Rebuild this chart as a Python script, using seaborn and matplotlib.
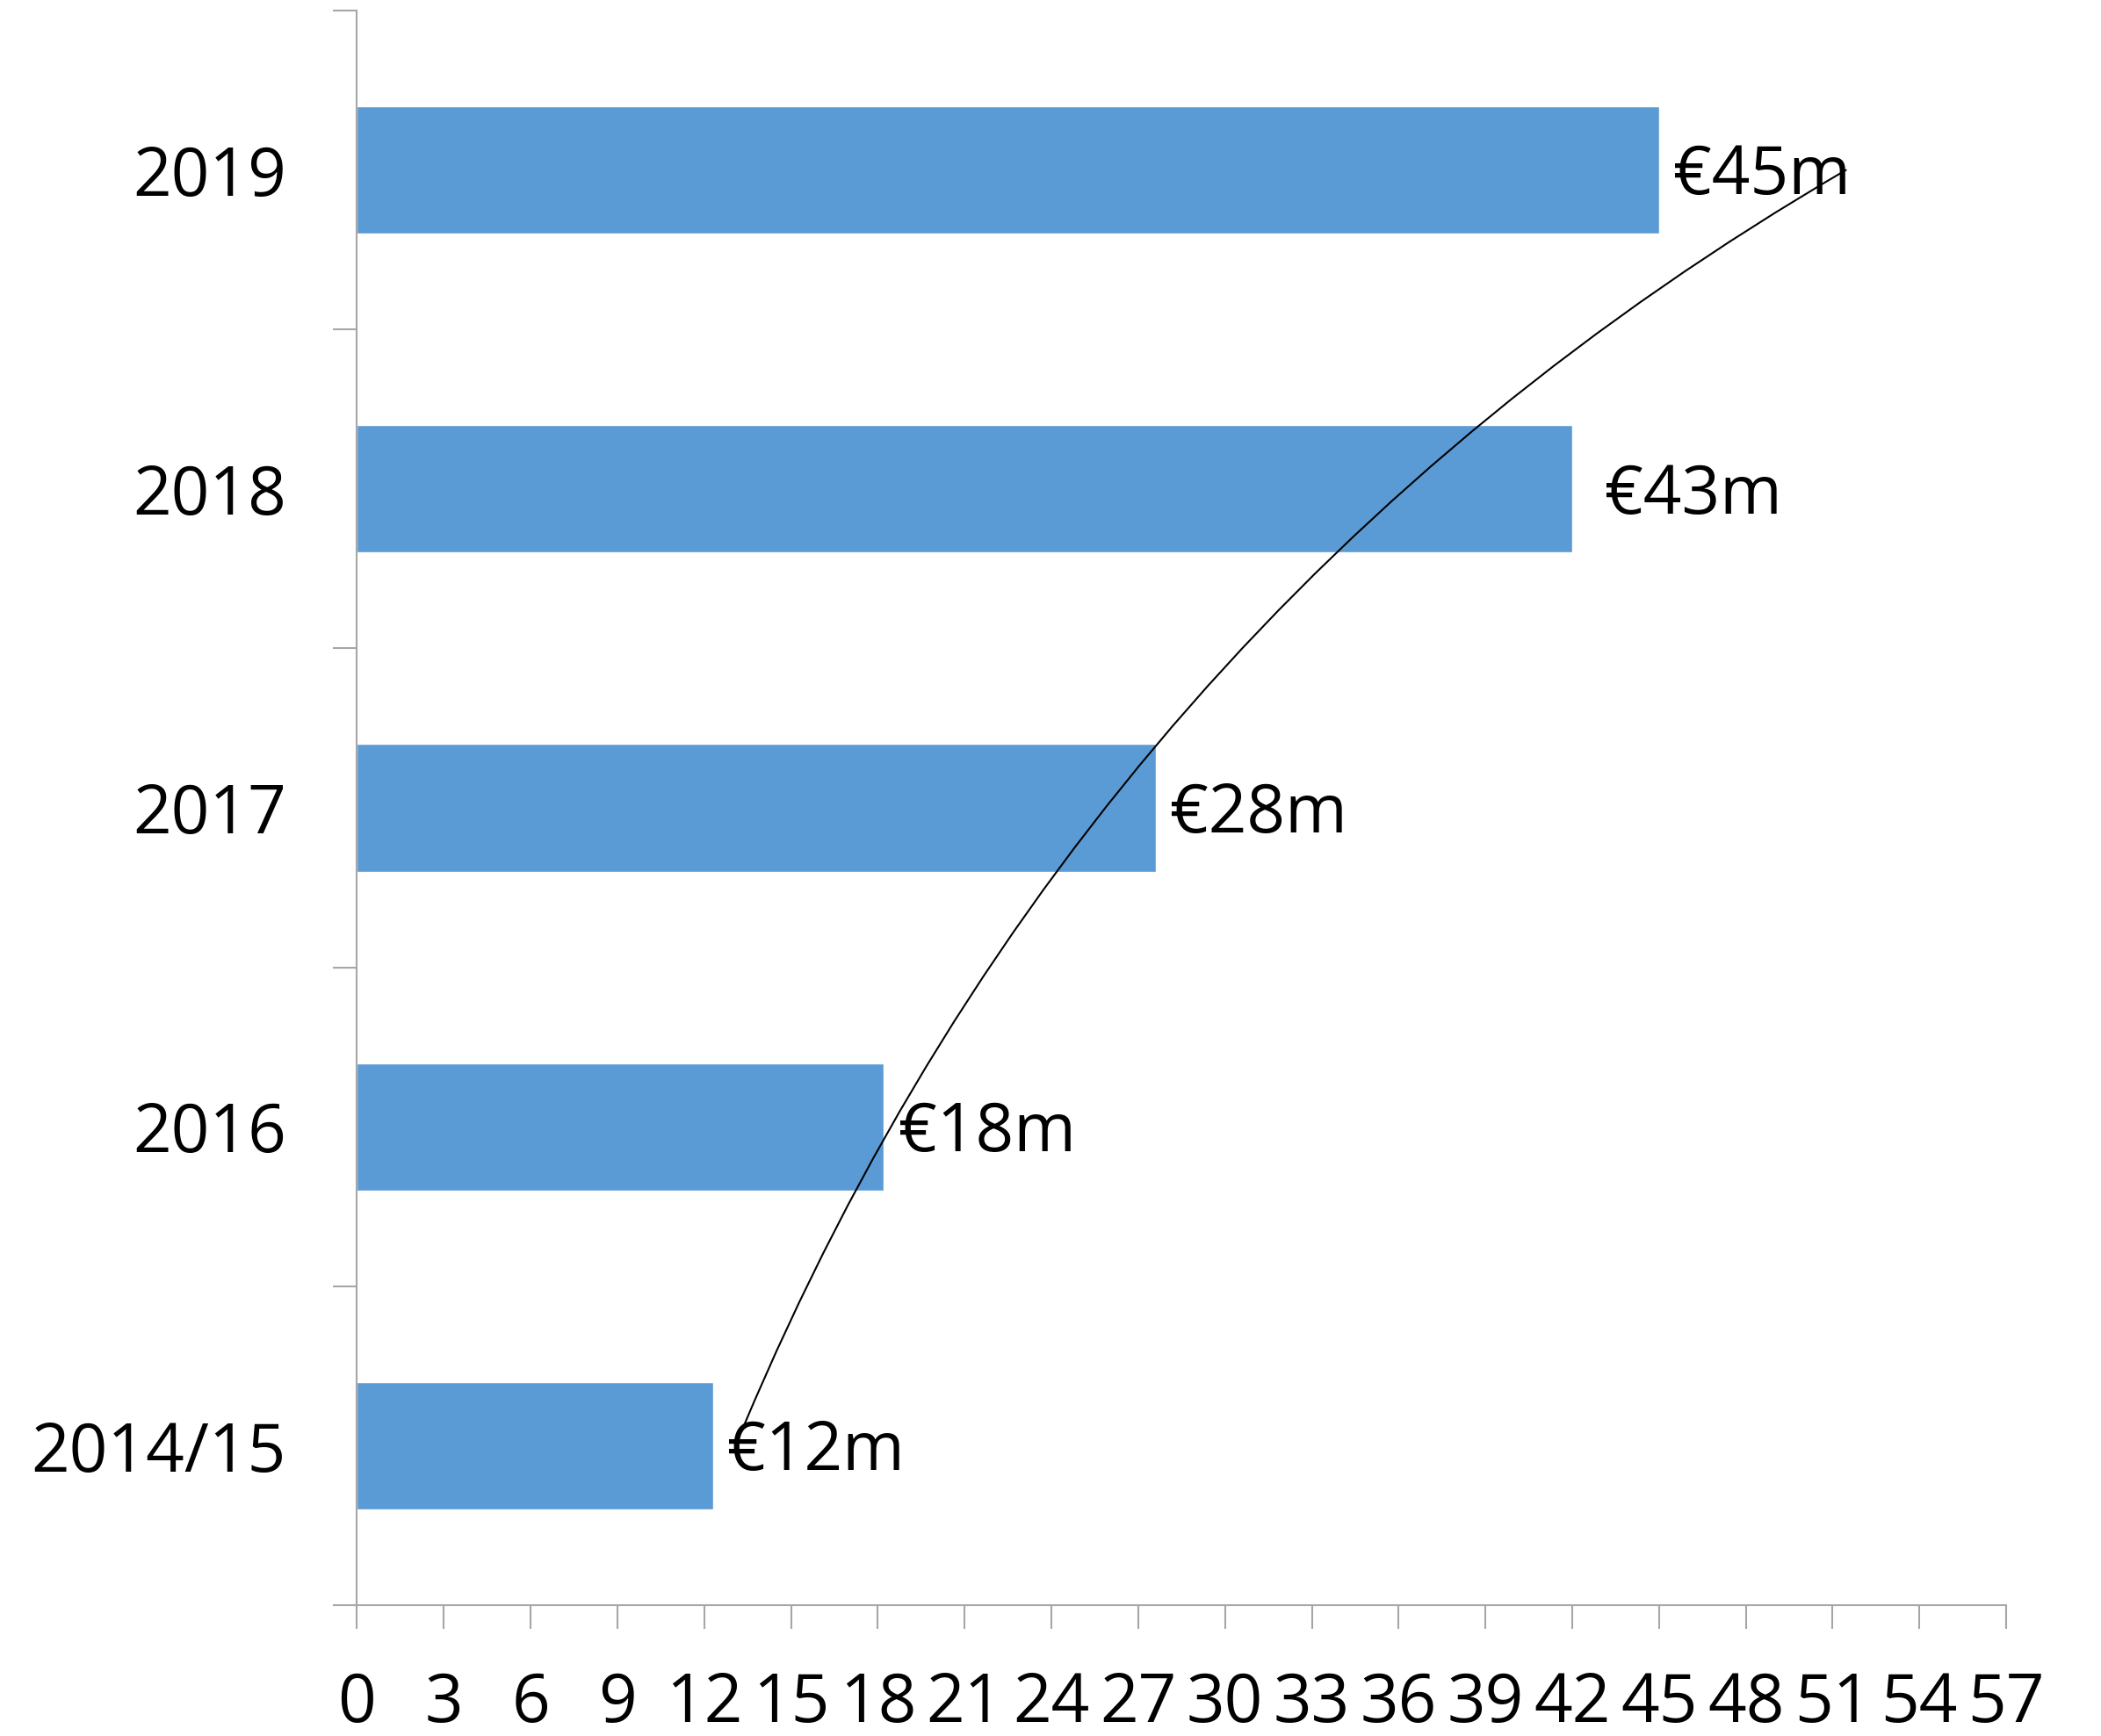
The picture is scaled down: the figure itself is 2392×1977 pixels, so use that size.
import matplotlib
matplotlib.use("Agg")
import matplotlib.pyplot as plt
from matplotlib.patches import FancyArrowPatch
import seaborn as sns

# data (EUR millions)
years = ["2019", "2018", "2017", "2016", "2014/15"]
amounts = [45.0, 42.0, 27.6, 18.2, 12.3]
bar_labels = ["€45m", "€43m", "€28m", "€18m", "€12m"]
x_ticks = list(range(0, 58, 3))

# hand-drawn growth arc, ends given in data units (x value, category index)
arc_start = (13.36, 3.94)
arc_end = (51.46, 0.0)

BAR_BLUE = "#5B9BD5"
AXIS_GREY = "#A6A6A6"

sns.set_style("white")
plt.rcParams["font.family"] = ["Open Sans", "DejaVu Sans"]

fig = plt.figure(figsize=(23.92, 19.77), dpi=100)
ax = fig.add_axes([0.1699, 0.0754, 0.9549 - 0.1699, 0.9939 - 0.0754])

sns.barplot(x=amounts, y=years, orient="h", color=BAR_BLUE,
            width=0.4, saturation=1, ax=ax)

ax.set_xlim(0, 57)
ax.set_ylim(4.5, -0.5)
ax.set_xticks(x_ticks)
ax.set_xticklabels([str(t) for t in x_ticks])
ax.set_yticks(range(len(years)))
ax.set_yticklabels(years)
ax.set_yticks([i - 0.5 for i in range(len(years) + 1)], minor=True)

for side in ["top", "right"]:
    ax.spines[side].set_visible(False)
for side in ["left", "bottom"]:
    ax.spines[side].set_color(AXIS_GREY)
    ax.spines[side].set_linewidth(1.5)

ax.tick_params(axis="x", which="major", bottom=True, direction="out",
               length=19.5, width=1.5, color=AXIS_GREY, labelsize=55,
               labelcolor="black", pad=34)
ax.tick_params(axis="y", which="major", left=True, length=0, labelsize=55,
               labelcolor="black", pad=58)
ax.tick_params(axis="y", which="minor", left=True, direction="out",
               length=19.5, width=1.5, color=AXIS_GREY)
ax.set_xlabel("")
ax.set_ylabel("")

# value labels next to bars; the 2018 one sits a bit further out
extra_pad = {"2018": 15}
for i, (yr, val, lab) in enumerate(zip(years, amounts, bar_labels)):
    ax.annotate(lab, xy=(val, i), xytext=(12 + extra_pad.get(yr, 0), -20),
                textcoords="offset points", ha="left", va="baseline",
                fontsize=55, color="black")

arc = FancyArrowPatch(arc_start, arc_end, connectionstyle="arc3,rad=-0.167",
                      arrowstyle="-", lw=1.5, color="black",
                      shrinkA=0, shrinkB=0, transform=ax.transData,
                      clip_on=False)
ax.add_patch(arc)

fig.savefig("out.png", dpi=100)
